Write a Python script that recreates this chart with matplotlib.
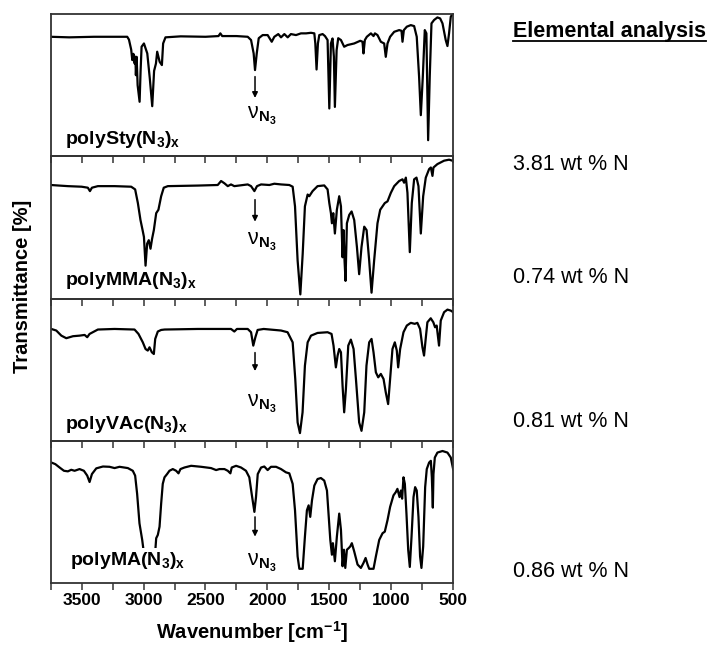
import matplotlib
matplotlib.use("Agg")
import matplotlib.pyplot as plt
from matplotlib.ticker import MultipleLocator
from matplotlib.lines import Line2D

plt.rcParams['font.family'] = 'Liberation Sans'
plt.rcParams['mathtext.fontset'] = 'custom'
plt.rcParams['mathtext.rm'] = 'Liberation Sans'
plt.rcParams['mathtext.it'] = 'Liberation Sans:italic'
plt.rcParams['mathtext.bf'] = 'Liberation Sans:bold'

# spectra: wavenumber [cm-1], transmittance (panel scale 0-100)
sty_wn = [3750, 3600, 3400, 3200, 3132, 3118, 3100, 3091, 3082, 3072, 3066, 3062, 3056, 3048,
          3032, 3024, 3016, 2997, 2970, 2950, 2930, 2915, 2900, 2890, 2870, 2852, 2842, 2823,
          2700, 2500, 2395, 2380, 2365, 2250, 2159, 2132, 2111, 2100, 2086, 2070, 2038, 1998,
          1965, 1944, 1912, 1890, 1863, 1836, 1810, 1769, 1729, 1688, 1648, 1621, 1613, 1603,
          1592, 1581, 1554, 1535, 1514, 1500, 1487, 1474, 1463, 1455, 1441, 1428, 1406, 1380,
          1353, 1299, 1250, 1232, 1224, 1213, 1197, 1164, 1143, 1132, 1111, 1084, 1057, 1044,
          1030, 1009, 976, 936, 917, 909, 898, 874, 842, 815, 794, 775, 761, 745, 729, 716,
          702, 689, 675, 654, 627, 605, 586, 560, 546, 533, 519, 505]
sty_t = [84.0, 83.6, 84.0, 84.0, 84.0, 82.0, 75.0, 67.6, 72.0, 65.2, 70.0, 57.0, 69.9, 50.0,
         38.3, 60.0, 77.0, 79.3, 72.3, 55.0, 35.2, 60.0, 65.2, 73.5, 66.4, 64.1, 79.3, 83.6,
         84.3, 84.0, 84.5, 86.4, 84.5, 84.5, 84.0, 81.7, 72.3, 60.6, 72.3, 83.0, 85.2, 85.2,
         80.5, 84.0, 85.9, 83.6, 85.9, 83.6, 85.9, 85.2, 86.4, 86.4, 86.8, 86.4, 79.3, 61.0,
         79.3, 85.2, 85.9, 84.5, 81.7, 33.6, 79.3, 82.8, 69.9, 34.7, 74.6, 83.0, 81.7, 77.0,
         78.2, 79.3, 81.2, 80.5, 72.3, 81.7, 84.0, 86.4, 84.5, 86.4, 85.2, 80.5, 79.3, 69.9,
         79.3, 84.0, 87.5, 88.7, 88.2, 80.5, 88.7, 91.1, 92.2, 91.5, 84.0, 55.9, 28.9, 55.9,
         88.7, 86.4, 11.3, 55.9, 93.4, 95.8, 97.6, 96.9, 93.4, 81.7, 77.5, 86.4, 98.1, 100.0]

mma_wn = [3750, 3611, 3500, 3450, 3433, 3417, 3369, 3234, 3100, 3068, 3046, 3025, 3008, 2997,
          2984, 2971, 2958, 2944, 2931, 2917, 2898, 2880, 2858, 2837, 2804, 2562, 2401, 2374,
          2347, 2320, 2294, 2267, 2159, 2132, 2105, 2084, 2051, 1984, 1944, 1890, 1823, 1796,
          1777, 1756, 1734, 1715, 1697, 1675, 1662, 1635, 1595, 1541, 1514, 1500, 1487, 1479,
          1468, 1455, 1439, 1420, 1406, 1393, 1385, 1377, 1369, 1358, 1339, 1320, 1299, 1277,
          1259, 1240, 1218, 1199, 1178, 1159, 1138, 1111, 1089, 1070, 1052, 1030, 1003, 976,
          936, 909, 896, 882, 869, 850, 834, 815, 796, 780, 761, 742, 721, 694, 680, 667, 659,
          627, 573, 533, 506, 500]
mma_t = [79.8, 79.0, 78.6, 77.9, 75.5, 77.9, 79.0, 79.0, 78.6, 76.7, 67.1, 55.2, 48.1, 43.3,
         23.1, 38.6, 41.0, 35.0, 42.1, 48.1, 60.0, 62.4, 71.9, 77.9, 79.0, 79.4, 79.8, 82.6,
         81.0, 79.0, 80.2, 79.0, 80.2, 79.0, 75.5, 79.0, 80.2, 79.8, 80.7, 80.2, 79.8, 78.6,
         64.8, 26.7, 2.9, 31.4, 64.8, 73.1, 71.9, 75.5, 79.0, 79.5, 76.7, 67.1, 60.0, 52.9,
         60.0, 45.7, 62.4, 71.9, 64.8, 29.0, 48.1, 26.7, 12.4, 52.9, 58.8, 61.2, 55.2, 36.2,
         17.1, 36.2, 50.5, 48.1, 26.7, 4.1, 26.7, 52.9, 62.4, 64.8, 67.1, 68.3, 74.3, 79.0,
         82.6, 83.8, 81.4, 85.0, 74.3, 32.6, 67.1, 83.8, 85.0, 79.0, 45.7, 71.9, 85.0, 91.0,
         92.1, 86.2, 92.1, 94.5, 96.9, 97.6, 96.9, 97.0]

vac_wn = [3745, 3705, 3664, 3624, 3570, 3517, 3476, 3455, 3436, 3369, 3234, 3073, 3041, 3006,
          2984, 2966, 2952, 2933, 2917, 2906, 2885, 2858, 2830, 2562, 2294, 2267, 2246, 2159,
          2132, 2114, 2097, 2079, 2030, 1890, 1837, 1796, 1775, 1756, 1737, 1716, 1697, 1675,
          1648, 1595, 1514, 1482, 1466, 1447, 1433, 1420, 1406, 1393, 1380, 1366, 1347, 1326,
          1304, 1285, 1259, 1240, 1218, 1200, 1178, 1159, 1143, 1124, 1105, 1084, 1062, 1044,
          1025, 1009, 990, 971, 955, 944, 928, 901, 874, 842, 810, 789, 767, 748, 735, 719,
          708, 681, 660, 646, 633, 614, 600, 573, 546, 519, 500]
vac_t = [78.6, 77.5, 73.9, 72.1, 73.5, 73.9, 74.4, 72.8, 75.1, 78.2, 78.6, 78.2, 75.1, 69.2,
         64.5, 63.4, 65.7, 62.2, 61.0, 71.6, 76.8, 77.9, 78.2, 78.6, 78.6, 76.8, 78.6, 78.6,
         76.3, 66.9, 72.8, 77.9, 78.6, 77.5, 76.3, 69.2, 43.4, 12.9, 5.4, 20.0, 52.8, 69.2,
         73.9, 75.8, 76.3, 75.1, 66.9, 51.6, 59.9, 64.5, 62.2, 38.7, 20.0, 36.4, 66.9, 71.1,
         64.5, 43.4, 12.9, 7.0, 20.0, 52.8, 69.2, 71.6, 62.2, 48.1, 44.6, 47.0, 43.4, 34.0,
         25.8, 43.4, 64.5, 69.2, 63.4, 51.6, 64.5, 76.3, 81.0, 82.9, 82.2, 82.9, 78.6, 65.7,
         59.9, 73.9, 83.3, 86.1, 83.3, 79.8, 81.0, 66.9, 84.5, 90.4, 92.2, 91.5, 90.4]

ma_wn = [3745, 3713, 3678, 3643, 3611, 3584, 3557, 3517, 3482, 3455, 3436, 3417, 3382, 3328,
         3275, 3234, 3194, 3127, 3087, 3068, 3052, 3033, 3011, 2990, 2940, 2910, 2898, 2885,
         2871, 2858, 2845, 2831, 2810, 2791, 2764, 2737, 2718, 2702, 2670, 2616, 2535, 2455,
         2414, 2387, 2347, 2320, 2299, 2288, 2253, 2213, 2173, 2146, 2127, 2105, 2092, 2078,
         2051, 2025, 1998, 1971, 1930, 1890, 1850, 1823, 1796, 1777, 1756, 1742, 1715, 1697,
         1681, 1667, 1654, 1640, 1621, 1595, 1568, 1541, 1519, 1506, 1492, 1479, 1471, 1455,
         1439, 1420, 1406, 1393, 1382, 1371, 1358, 1344, 1331, 1318, 1299, 1272, 1245, 1224,
         1207, 1191, 1178, 1143, 1124, 1097, 1070, 1052, 1030, 1009, 982, 963, 950, 933, 922,
         912, 901, 890, 877, 863, 850, 836, 820, 807, 794, 780, 767, 756, 742, 726, 713, 694,
         680, 672, 664, 659, 648, 627, 586, 546, 519, 506, 500]
ma_t = [84.7, 83.6, 81.2, 78.9, 78.5, 79.6, 78.9, 80.1, 78.9, 75.5, 71.0, 76.6, 80.6, 81.9,
        81.7, 80.8, 81.7, 80.8, 78.9, 75.5, 62.7, 41.9, 30.3, 16.0, 14.0, 17.0, 31.5, 33.8,
        39.6, 55.8, 69.7, 74.3, 76.6, 78.9, 80.1, 78.9, 77.1, 80.1, 81.2, 82.4, 81.7, 80.8,
        79.4, 80.1, 80.1, 78.9, 77.1, 81.2, 82.4, 81.2, 78.9, 74.3, 62.7, 50.0, 60.4, 76.6,
        81.2, 81.9, 79.4, 81.7, 81.7, 80.1, 77.8, 77.1, 69.7, 51.1, 18.7, 10.0, 10.0, 32.6,
        51.1, 54.6, 46.5, 58.1, 68.5, 73.1, 73.8, 72.0, 65.0, 48.8, 30.3, 19.9, 28.0, 15.3,
        32.6, 48.8, 37.3, 11.8, 23.4, 10.6, 23.4, 24.5, 25.7, 28.0, 22.2, 13.0, 10.6, 14.1,
        17.6, 13.0, 10.0, 10.0, 18.7, 30.3, 35.0, 36.1, 44.2, 53.5, 61.6, 63.9, 66.2, 60.4, 65.0,
        59.3, 74.3, 69.7, 48.8, 23.4, 11.3, 32.6, 60.4, 67.4, 65.0, 46.5, 18.7, 10.6, 25.7, 67.4, 80.1, 84.7,
        85.9, 74.3, 53.0, 76.6, 88.2, 91.7, 92.8, 91.7, 88.2, 82.4, 80.0]

labels = [r'polySty(N$_\mathbf{3}$)$_\mathbf{x}$', r'polyMMA(N$_\mathbf{3}$)$_\mathbf{x}$',
          r'polyVAc(N$_\mathbf{3}$)$_\mathbf{x}$', r'polyMA(N$_\mathbf{3}$)$_\mathbf{x}$']
nitrogen = ['3.81 wt % N', '0.74 wt % N', '0.81 wt % N', '0.86 wt % N']
azide_wn = 2100

spectra = [(sty_wn, sty_t), (mma_wn, mma_t), (vac_wn, vac_t), (ma_wn, ma_t)]

# layout (axes fractions)
label_x = [0.035, 0.035, 0.035, 0.047]
label_y = [0.089, 0.093, 0.082, 0.13]
arrow_tail = [0.56, 0.695, 0.62, 0.465]
arrow_tip = [0.41, 0.54, 0.49, 0.326]
nu_y = [0.26, 0.374, 0.235, 0.118]
value_y = [0.746, 0.571, 0.347, 0.116]

fig, axes = plt.subplots(4, 1, sharex=True, figsize=(7.17, 6.46), dpi=100)
fig.subplots_adjust(left=0.0707, right=0.632, top=0.9783, bottom=0.0975, hspace=0)

for i, ax in enumerate(axes):
    wn, t = spectra[i]
    ax.patch.set_visible(False)
    ax.plot(wn, t, color='black', lw=1.6, zorder=2)
    ax.set_xlim(3750, 500)
    ax.set_ylim(0, 100)
    ax.set_yticks([])
    ax.xaxis.set_major_locator(MultipleLocator(500))
    ax.xaxis.set_minor_locator(MultipleLocator(250))
    ax.tick_params(axis='x', which='both', direction='out', length=5, width=1.1,
                   top=False, bottom=True, labelsize=12.5, pad=2, color='#333333')
    for sp in ax.spines.values():
        sp.set_linewidth(1.3)
        sp.set_color('#333333')
    ax.text(label_x[i], label_y[i], labels[i], transform=ax.transAxes, fontsize=14,
            fontweight='bold', va='baseline', ha='left', zorder=3,
            bbox=dict(facecolor='white', edgecolor='none', pad=1))
    ax.annotate('', xy=(azide_wn, arrow_tip[i]), xytext=(azide_wn, arrow_tail[i]),
                xycoords=ax.get_xaxis_transform(),
                arrowprops=dict(arrowstyle='-|>', lw=1.1, color='black', mutation_scale=8,
                                shrinkA=0, shrinkB=0))
    ax.text(2165, nu_y[i], r'$\mathrm{\nu}_{\mathbf{N}_{\mathbf{3}}}$', transform=ax.get_xaxis_transform(),
            fontsize=15.5, va='baseline', ha='left')

for lbl in axes[-1].get_xticklabels():
    lbl.set_fontweight('bold')

fig.text(0.351, 0.022, r'Wavenumber [cm$^{\mathbf{-1}}$]', fontsize=14.5, fontweight='bold',
         ha='center', va='center')
fig.text(0.032, 0.557, 'Transmittance [%]', fontsize=14.5, fontweight='bold',
         ha='center', va='center', rotation=90)

head = fig.text(0.7155, 0.952, 'Elemental analysis', fontsize=15.5, fontweight='bold',
                ha='left', va='center')
for k in range(4):
    fig.text(0.7155, value_y[k], nitrogen[k], fontsize=15.5, ha='left', va='center')

fig.canvas.draw()
bb = head.get_window_extent().transformed(fig.transFigure.inverted())
fig.add_artist(Line2D([bb.x0, bb.x1], [bb.y0 + 0.001, bb.y0 + 0.001], color='black', lw=1.3,
                      transform=fig.transFigure))

fig.savefig('out.png', dpi=100)
